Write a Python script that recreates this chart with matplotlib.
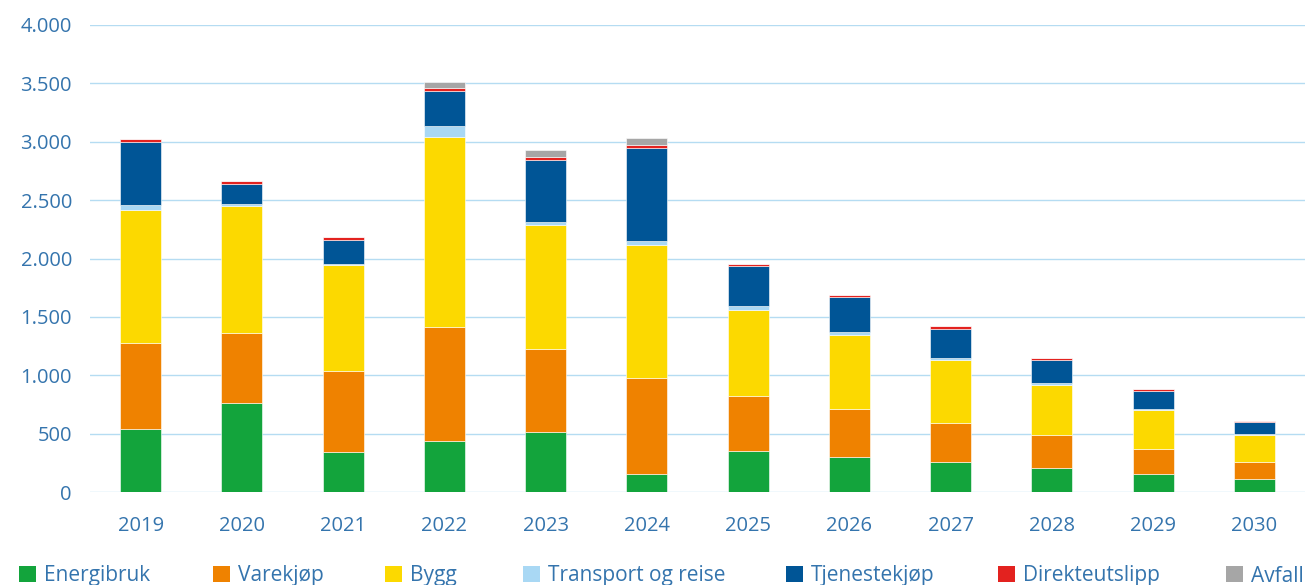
import matplotlib.pyplot as plt
import numpy as np
from matplotlib.ticker import FuncFormatter
from matplotlib.patches import Patch

years = ["2019", "2020", "2021", "2022", "2023", "2024", "2025", "2026", "2027", "2028", "2029", "2030"]
energibruk = [542, 764, 342, 439, 513, 157, 353, 300, 255, 206, 154, 109]
varekjop = [730, 599, 696, 973, 711, 818, 468, 410, 337, 278, 215, 148]
bygg = [1141, 1090, 907, 1631, 1063, 1138, 736, 635, 535, 434, 332, 235]
transport = [48, 17, 5, 94, 29, 35, 32, 25, 23, 18, 14, 6]
tjenestekjop = [534, 165, 211, 297, 527, 798, 344, 301, 249, 197, 152, 103]
direkteutslipp = [31, 32, 26, 28, 29, 23, 18, 17, 20, 14, 11, 8]
avfall = [0, 0, 0, 52, 57, 63, 0, 0, 0, 0, 0, 0]

series = [
    ("Energibruk", energibruk, "#13a43c"),
    ("Varekjøp", varekjop, "#ef8200"),
    ("Bygg", bygg, "#fcd900"),
    ("Transport og reise", transport, "#a9d8f4"),
    ("Tjenestekjøp", tjenestekjop, "#005596"),
    ("Direkteutslipp", direkteutslipp, "#e3221f"),
    ("Avfall", avfall, "#a6a6a6"),
]

plt.rcParams['font.family'] = ['Open Sans', 'DejaVu Sans']
txtcol = "#3474ad"

fig = plt.figure(figsize=(13.07, 5.85), dpi=100)
ax = fig.add_axes([90/1307, 1 - 492/585, (1305-90)/1307, (492-25)/585])

x = np.arange(len(years))
bottom = np.zeros(len(years))
handles = []
for name, vals, col in series:
    v = np.array(vals, dtype=float)
    ax.bar(x, v, bottom=bottom, width=0.405, color=col, edgecolor="white", linewidth=0.4, zorder=3)
    bottom += v
    handles.append(Patch(facecolor=col, edgecolor="none", label=name))

ax.set_xlim(-0.5, len(years) - 0.5)
ax.set_ylim(0, 4000)
ax.set_yticks(np.arange(0, 4001, 500))
ax.yaxis.set_major_formatter(FuncFormatter(lambda v, p: f"{int(v):,}".replace(",", ".")))
ax.set_xticks(x)
ax.set_xticklabels(years)
ax.grid(axis="y", color="#b5dcf2", linewidth=1.0, zorder=0)
for s in ax.spines.values():
    s.set_visible(False)
ax.tick_params(axis="both", length=0, colors=txtcol, labelsize=14.5)
ax.tick_params(axis="x", pad=17)
ax.tick_params(axis="y", pad=13)

legend_x = [19, 213, 385, 523, 786, 998, 1226]
for h, lx in zip(handles, legend_x):
    leg = fig.legend(handles=[h], loc="center left", bbox_to_anchor=(lx/1307, 1 - 576/585),
                     frameon=False, fontsize=15, handlelength=0.8, handleheight=0.8,
                     handletextpad=0.4, borderaxespad=0, borderpad=0)
    for t in leg.get_texts():
        t.set_color(txtcol)

fig.savefig("out.png", dpi=100)
